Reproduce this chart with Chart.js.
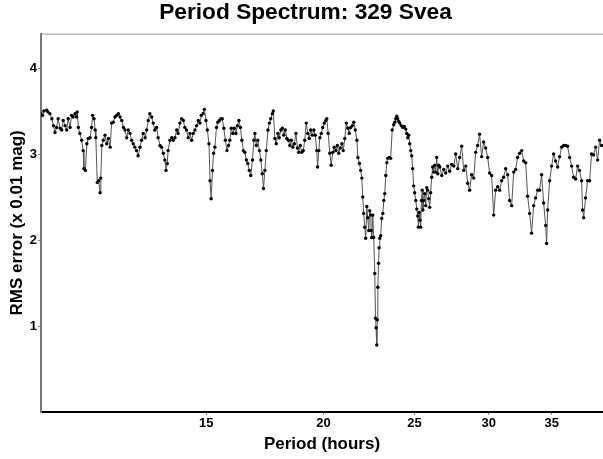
<!DOCTYPE html>
<html><head><meta charset="utf-8">
<script src="https://cdn.jsdelivr.net/npm/chart.js@4/dist/chart.umd.min.js"></script>
<style>html,body{margin:0;padding:0;background:#fff;}canvas{display:block;}</style>
</head><body>
<canvas id="c" width="603" height="459"></canvas>
<script>
const periods = [
10.00,10.04,10.07,10.14,10.17,10.22,10.27,10.31,10.35,10.39,10.43,10.48,10.52,10.56,10.61,10.65,10.69,10.74,10.78,10.82,
10.87,10.91,10.93,10.96,11.00,11.05,11.09,11.11,11.15,11.19,11.23,11.28,11.32,11.35,11.39,11.42,11.44,11.48,11.52,11.56,
11.58,11.61,11.65,11.70,11.75,11.80,11.85,11.89,11.94,11.99,12.04,12.09,12.14,12.19,12.24,12.29,12.34,12.39,12.44,12.49,
12.54,12.59,12.64,12.69,12.75,12.80,12.85,12.91,12.96,13.01,13.06,13.12,13.17,13.22,13.28,13.33,13.39,13.44,13.50,13.55,
13.59,13.63,13.66,13.72,13.78,13.83,13.89,13.95,14.00,14.06,14.12,14.18,14.23,14.29,14.35,14.41,14.47,14.53,14.59,14.65,
14.71,14.77,14.82,14.88,14.93,14.99,15.04,15.10,15.14,15.18,15.23,15.27,15.32,15.38,15.43,15.49,15.55,15.60,15.66,15.72,
15.78,15.84,15.89,15.95,16.01,16.07,16.13,16.19,16.25,16.31,16.37,16.43,16.49,16.55,16.61,16.67,16.73,16.80,16.86,16.90,
16.96,17.02,17.09,17.15,17.21,17.26,17.32,17.38,17.45,17.51,17.57,17.64,17.68,17.75,17.81,17.88,17.94,18.01,18.08,18.14,
18.21,18.28,18.35,18.41,18.48,18.55,18.62,18.69,18.76,18.82,18.89,18.96,19.03,19.10,19.17,19.24,19.31,19.38,19.46,19.53,
19.60,19.67,19.71,19.77,19.82,19.89,19.96,20.04,20.11,20.16,20.23,20.31,20.38,20.46,20.53,20.61,20.69,20.76,20.84,20.92,
20.99,21.07,21.15,21.23,21.30,21.38,21.46,21.54,21.62,21.71,21.76,21.84,21.91,21.97,22.02,22.07,22.13,22.18,22.24,22.29,
22.35,22.40,22.46,22.48,22.51,22.57,22.62,22.68,22.72,22.75,22.79,22.82,22.85,22.89,22.92,22.96,23.01,23.07,23.13,23.19,
23.24,23.30,23.36,23.41,23.50,23.58,23.67,23.76,23.82,23.88,23.94,23.99,24.05,24.11,24.20,24.29,24.38,24.47,24.53,24.59,
24.65,24.71,24.77,24.83,24.89,24.95,25.01,25.08,25.14,25.20,25.24,25.29,25.34,25.38,25.43,25.48,25.52,25.57,25.64,25.70,
25.76,25.82,25.89,25.95,26.01,26.08,26.14,26.21,26.27,26.34,26.40,26.47,26.53,
26.60,26.73,26.86,26.99,27.12,27.25,27.39,27.53,27.66,27.80,27.93,28.07,28.21,28.35,28.49,28.62,28.76,28.91,29.05,29.19,
29.33,29.48,29.62,29.77,29.92,30.06,30.21,30.36,30.51,30.66,30.81,30.96,31.11,31.27,31.42,31.57,31.73,31.89,32.04,32.20,
32.36,32.52,32.68,32.84,33.00,33.16,33.32,33.49,33.65,33.82,33.98,34.15,34.32,34.49,34.57,34.66,34.83,35.00,35.17,35.34,
35.52,35.69,35.87,36.04,36.22,36.40,36.58,36.76,36.94,37.12,37.30,37.48,37.67,37.76,37.86,38.04,38.23,38.42,38.60,38.79,
38.99,39.18,39.37,39.56
];
const rmsError = [
3.47,3.45,3.50,3.51,3.49,3.47,3.41,3.33,3.25,3.31,3.41,3.30,3.28,3.39,3.33,3.28,3.41,3.31,3.45,3.43,
3.47,3.43,3.49,3.31,3.24,3.16,3.04,2.83,2.81,3.12,3.18,3.19,3.31,3.45,3.41,3.28,3.19,2.67,2.69,2.55,
2.72,3.10,3.16,3.22,3.12,3.18,3.08,3.36,3.37,3.43,3.45,3.47,3.43,3.39,3.31,3.28,3.19,3.28,3.24,3.16,
3.12,3.08,3.04,2.98,3.08,3.16,3.24,3.19,3.28,3.39,3.47,3.43,3.36,3.28,3.31,3.19,3.10,3.08,3.01,2.93,
2.81,2.89,3.04,3.16,3.19,3.16,3.19,3.28,3.24,3.36,3.41,3.39,3.31,3.28,3.19,3.24,3.16,3.24,3.28,3.33,
3.39,3.36,3.45,3.47,3.52,3.39,3.28,3.12,2.69,2.48,2.81,3.01,3.08,3.31,3.37,3.39,3.41,3.41,3.30,3.16,
3.04,3.10,3.16,3.30,3.24,3.30,3.24,3.33,3.39,3.31,3.16,3.04,3.02,2.93,2.89,2.81,2.75,2.93,3.16,3.24,
3.10,3.16,3.04,2.93,2.77,2.60,2.81,3.04,3.28,3.36,3.41,3.47,3.50,3.18,3.12,3.24,3.19,3.28,3.30,3.22,
3.28,3.18,3.16,3.10,3.16,3.08,3.12,3.24,3.07,3.02,3.10,3.02,3.04,3.16,3.36,3.24,3.18,3.28,3.22,3.28,
3.22,3.04,2.85,3.04,3.19,3.24,3.31,3.36,3.39,3.41,3.24,3.01,2.87,3.02,3.08,3.04,3.10,3.01,3.07,3.12,
3.04,3.18,3.36,3.30,3.24,3.31,3.33,3.37,3.28,3.16,2.96,2.89,2.81,2.72,2.50,2.31,2.15,2.02,2.39,2.26,
2.11,2.34,2.29,2.11,2.03,2.29,2.03,1.61,1.09,0.98,0.78,1.07,1.45,1.73,1.91,2.02,2.05,2.25,2.31,2.46,
2.54,2.75,2.90,2.95,2.96,2.95,3.28,3.34,3.37,3.41,3.44,3.41,3.38,3.36,3.33,3.31,3.32,3.29,3.24,3.19,
3.22,3.12,3.04,2.98,2.83,2.63,2.55,2.46,2.36,2.28,2.15,2.32,2.23,2.15,2.46,2.58,2.35,2.46,2.54,2.40,
2.61,2.58,2.48,2.38,2.55,2.73,2.85,2.79,2.87,2.79,2.96,2.77,2.87,
2.85,2.75,2.82,2.78,2.86,2.80,2.88,2.86,3.00,2.83,2.96,3.09,2.81,2.86,2.66,2.58,2.76,2.72,3.02,3.10,
3.23,2.97,3.14,3.07,2.96,2.78,2.75,2.29,2.58,2.62,2.58,2.69,2.73,2.83,2.76,2.46,2.40,2.79,2.82,2.96,
3.01,3.04,2.92,2.90,2.51,2.31,2.08,2.40,2.49,2.58,2.58,2.76,2.43,2.17,1.96,2.35,2.69,2.86,3.00,2.92,
2.85,2.97,3.08,3.10,3.10,3.09,2.96,2.86,2.73,2.71,2.86,2.81,2.69,2.35,2.26,2.49,2.69,2.69,3.00,2.99,
3.08,2.93,3.16,3.10
];
const xTickValues = [15, 20, 25, 30, 35];
const yTickValues = [1, 2, 3, 4];
const chartTitle = 'Period Spectrum: 329 Svea';
const xTitle = 'Period (hours)';
const yTitle = 'RMS error (x 0.01 mag)';

const FONT = '"Liberation Sans", Arial, Helvetica, sans-serif';
const framePlugin = {
  id: 'frame',
  afterDraw(chart) {
    const {ctx, chartArea: a} = chart;
    ctx.save();
    ctx.strokeStyle = '#9a9a9a';
    ctx.lineWidth = 1;
    ctx.beginPath();
    ctx.moveTo(a.left, a.top + 0.5);
    ctx.lineTo(a.right, a.top + 0.5);
    ctx.stroke();
    ctx.restore();
  }
};

new Chart(document.getElementById('c'), {
  type: 'line',
  data: {
    datasets: [{
      data: periods.map((p, i) => ({x: p, y: rmsError[i]})),
      borderColor: '#555',
      borderWidth: 1,
      pointRadius: 1.7,
      pointHoverRadius: 1.7,
      pointBackgroundColor: '#000',
      pointBorderColor: '#000',
      pointBorderWidth: 0,
      tension: 0,
      fill: false
    }]
  },
  options: {
    responsive: false,
    animation: false,
    devicePixelRatio: 1,
    layout: {padding: {left: 8, right: 0, top: 0, bottom: 0}, autoPadding: false},
    plugins: {
      legend: {display: false},
      tooltip: {enabled: false},
      title: {
        display: true, text: chartTitle, color: '#000',
        font: {family: FONT, size: 22.7, weight: 'bold', lineHeight: 1.1},
        padding: {top: 0, bottom: 8.7}
      }
    },
    scales: {
      x: {
        type: 'logarithmic', min: 10, max: 39.7,
        afterBuildTicks: s => { s.ticks = xTickValues.map(v => ({value: v})); },
        afterFit: s => { s.height = 47; s.paddingLeft = 0; s.paddingRight = 0; },
        ticks: {callback: v => String(v), color: '#000', font: {family: FONT, size: 13, weight: 'bold'}, padding: 1, maxRotation: 0, autoSkip: false},
        grid: {drawOnChartArea: false, drawTicks: true, tickLength: 3, tickColor: '#888'},
        border: {color: '#000', width: 2},
        title: {display: true, text: xTitle, color: '#000', font: {family: FONT, size: 17, weight: 'bold'}, padding: {top: 0, bottom: 4.8}}
      },
      y: {
        type: 'linear', min: 0, max: 4.4,
        afterBuildTicks: s => { s.ticks = yTickValues.map(v => ({value: v})); },
        afterFit: s => { s.width = 33; s.paddingTop = 0; s.paddingBottom = 0; },
        ticks: {callback: v => String(v), color: '#000', font: {family: FONT, size: 13, weight: 'bold'}, padding: 1},
        grid: {drawOnChartArea: false, drawTicks: true, tickLength: 3, tickColor: '#888'},
        border: {color: '#777', width: 2},
        title: {display: true, text: yTitle, color: '#000', font: {family: FONT, size: 17, weight: 'bold'}, padding: {top: -0.7, bottom: 0}}
      }
    }
  },
  plugins: [framePlugin]
});
</script>
</body></html>
